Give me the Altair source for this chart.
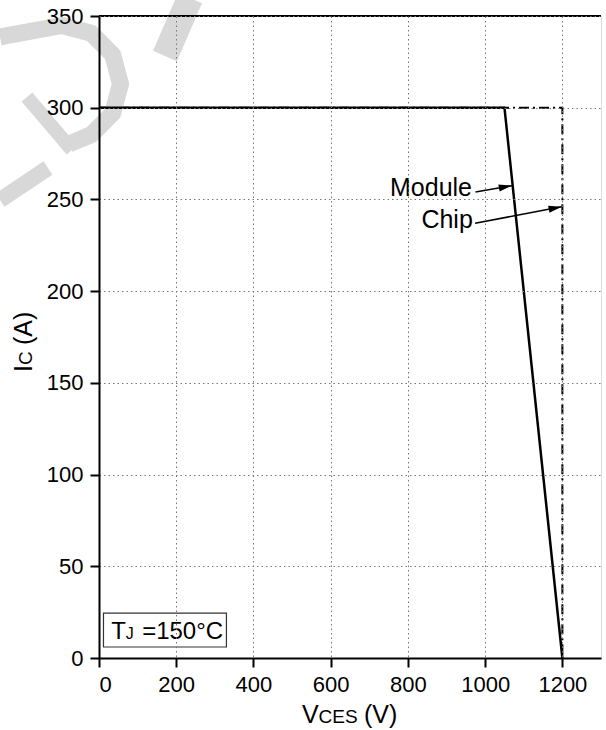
import math
import altair as alt
import pandas as pd

# Safe operating area: collector current vs. collector-emitter voltage
module_v = [0, 1050, 1200]
module_i = [300, 300, 0]
chip_v = [0, 1200, 1200]
chip_i = [300, 300, 0]

x_ticks = [0, 200, 400, 600, 800, 1000, 1200]
y_ticks = [0, 50, 100, 150, 200, 250, 300, 350]

# annotation arrows: start (label side) -> tip (on the curve)
arrow_names = ["Module", "Chip"]
arrow_v0 = [975, 974]
arrow_i0 = [254, 237]
arrow_v1 = [1069, 1198]
arrow_i1 = [257.5, 246]
label_v = [966, 968]
label_i = [256, 239]

W, H = 502, 642
X_MAX, Y_MAX = 1300, 350
FONT = "Liberation Sans"
MARK_GRAY = "#d8d8d8"

sx = alt.Scale(domain=[0, X_MAX], nice=False, zero=False)
sy = alt.Scale(domain=[0, Y_MAX], nice=False, zero=False)
px_x = W / X_MAX
px_y = H / Y_MAX

module_df = pd.DataFrame({"v": module_v, "i": module_i, "o": range(3)})
chip_df = pd.DataFrame({"v": chip_v, "i": chip_i, "o": range(3)})

angles = []
for a, b, c, d in zip(arrow_v0, arrow_i0, arrow_v1, arrow_i1):
    ang = math.degrees(math.atan2(-(d - b) * px_y, (c - a) * px_x))
    angles.append(ang % 360)

arrow_df = pd.DataFrame({
    "name": arrow_names, "v0": arrow_v0, "i0": arrow_i0,
    "v1": arrow_v1, "i1": arrow_i1, "lv": label_v, "li": label_i,
    "ang": angles,
})

axis_style = dict(
    title=None, grid=True, labelFontSize=22, labelFont=FONT,
    labelColor="black", tickColor="black", tickSize=9, tickWidth=2,
    domainColor="black", domainWidth=2, zindex=1,
    gridColor="#777", gridDash=[1.5, 3], gridWidth=1)

base_x = alt.X("v:Q", scale=sx, axis=alt.Axis(
    values=x_ticks, format="d", labelPadding=7, **axis_style))
base_y = alt.Y("i:Q", scale=sy, axis=alt.Axis(
    values=y_ticks, format="d", labelPadding=7, **axis_style))

one = pd.DataFrame({"k": [0]})

# faint background logo strokes in the upper-left corner (pixel offsets
# from the plot's top-left corner), converted to axis units
logo_strokes = [
    (17, [(-99, 21), (-37, 9.5), (-7.7, 17.3), (13.7, 38.7), (21.5, 68),
          (13.7, 97.3), (-7.7, 118.7), (-30, 128)]),
    (14, [(-72, 81), (-27, 134)]),
    (16, [(-99, 184), (-51, 152)]),
    (26, [(91, -18), (66, 40)]),
]
logo_layers = []
for w, pts in logo_strokes:
    df = pd.DataFrame({
        "v": [p[0] / px_x for p in pts],
        "i": [Y_MAX - p[1] / px_y for p in pts],
        "o": range(len(pts)),
    })
    logo_layers.append(alt.Chart(df).mark_line(
        color=MARK_GRAY, strokeWidth=w, strokeCap="butt", strokeJoin="round"
    ).encode(x=alt.X("v:Q", scale=sx), y=alt.Y("i:Q", scale=sy), order="o:Q"))

top_frame = alt.Chart(one).mark_rule(color="black", strokeWidth=2).encode(
    x=alt.value(0), x2=alt.value(W), y=alt.value(0))

chip = alt.Chart(chip_df).mark_line(
    color="black", strokeWidth=2, strokeDash=[10, 4, 2, 4]
).encode(x=base_x, y=base_y, order="o:Q")

module = alt.Chart(module_df).mark_line(
    color="black", strokeWidth=2.5
).encode(x=alt.X("v:Q", scale=sx), y=alt.Y("i:Q", scale=sy), order="o:Q")

arrow_lines = alt.Chart(arrow_df).mark_rule(color="black", strokeWidth=1.5).encode(
    x=alt.X("v0:Q", scale=sx), y=alt.Y("i0:Q", scale=sy),
    x2="v1:Q", y2="i1:Q")

arrow_heads = alt.Chart(arrow_df).mark_point(
    shape="M0,0 L-2,-0.55 L-2,0.55 Z", filled=True, color="black",
    size=170, opacity=1
).encode(x=alt.X("v1:Q", scale=sx), y=alt.Y("i1:Q", scale=sy),
         angle=alt.Angle("ang:Q", scale=None))

labels = alt.Chart(arrow_df).mark_text(
    font=FONT, fontSize=25, align="right", baseline="middle", color="black"
).encode(x=alt.X("lv:Q", scale=sx), y=alt.Y("li:Q", scale=sy), text="name:N")

# temperature box
box_df = pd.DataFrame({"v0": [11.6], "v1": [330], "i0": [6], "i1": [24.5]})
box = alt.Chart(box_df).mark_rect(
    fill="white", stroke="#333", strokeWidth=1.2
).encode(x=alt.X("v0:Q", scale=sx), x2="v1:Q",
         y=alt.Y("i0:Q", scale=sy), y2="i1:Q")

tj_parts = ["T", "J", "=150°C"]
tj_size = [24, 16, 24]
tj_dx = [0, 14.5, 31]
tj_layers = []
for t, s, d in zip(tj_parts, tj_size, tj_dx):
    tj_layers.append(alt.Chart(one).mark_text(
        text=t, font=FONT, fontSize=s, align="left", baseline="alphabetic",
        dx=d, color="black"
    ).encode(x=alt.datum(31.5, scale=sx), y=alt.datum(10.5, scale=sy)))

# axis titles with small-size subscript letters
title_layers = []
for t, s, xp in zip(["V", "CES", "(V)"], [25, 19, 25], [203, 219.5, 265]):
    title_layers.append(alt.Chart(one).mark_text(
        text=t, font=FONT, fontSize=s, align="left", baseline="alphabetic",
        color="black").encode(x=alt.value(xp), y=alt.value(707)))
for t, s, yp in zip(["I", "C", "(A)"], [25, 19, 25], [356, 349, 329]):
    title_layers.append(alt.Chart(one).mark_text(
        text=t, font=FONT, fontSize=s, align="left", baseline="alphabetic",
        angle=270, color="black").encode(x=alt.value(-67), y=alt.value(yp)))

chart = alt.layer(
    chip, *logo_layers, top_frame, module, arrow_lines,
    arrow_heads, labels, box, *tj_layers, *title_layers
).properties(
    width=W, height=H,
    autosize=alt.AutoSizeParams(type="none"),
    padding={"left": 99, "top": 16, "right": 5, "bottom": 72},
).configure_view(
    stroke="black", strokeWidth=2
).configure(background="white")

chart.save("out.html", embed_options={"renderer": "svg", "actions": False})
